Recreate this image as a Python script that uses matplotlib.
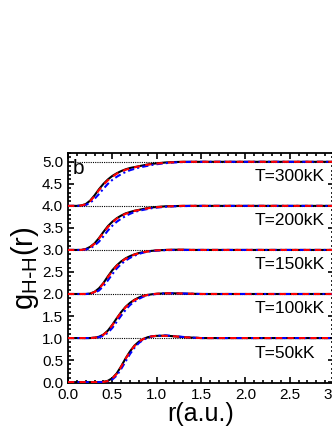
import numpy as np
import matplotlib
matplotlib.use("Agg")
from matplotlib import pyplot as plt
from matplotlib.ticker import MultipleLocator, FormatStrFormatter

plt.rcParams['font.family'] = ['Liberation Sans', 'DejaVu Sans']

# r grid (a.u.) shared by all curves
r = [0.0, 0.1, 0.15, 0.2, 0.25, 0.3, 0.35, 0.4, 0.45, 0.5, 0.55, 0.6, 0.65,
     0.7, 0.75, 0.8, 0.85, 0.9, 0.95, 1.0, 1.1, 1.2, 1.3, 1.4, 1.5, 2.0, 3.0]

temps = ["T=50kK", "T=100kK", "T=150kK", "T=200kK", "T=300kK"]
offsets = [0, 1, 2, 3, 4]

# black solid
g_black = [
    [0, 0, 0, 0, 0, 0, 0, 0.005, 0.03, 0.09, 0.2, 0.36, 0.54, 0.7, 0.83, 0.92, 0.98, 1.02, 1.04, 1.05, 1.055, 1.04, 1.02, 1.01, 1.0, 1.0, 1.0],
    [0, 0, 0, 0, 0, 0.01, 0.03, 0.08, 0.17, 0.3, 0.45, 0.59, 0.71, 0.8, 0.87, 0.92, 0.96, 0.98, 0.995, 1.005, 1.015, 1.015, 1.01, 1.005, 1.0, 1.0, 1.0],
    [0, 0, 0, 0, 0.01, 0.05, 0.13, 0.25, 0.4, 0.54, 0.65, 0.74, 0.81, 0.86, 0.9, 0.93, 0.95, 0.97, 0.98, 0.99, 1.0, 1.005, 1.005, 1.0, 1.0, 1.0, 1.0],
    [0, 0, 0, 0.02, 0.07, 0.15, 0.27, 0.41, 0.54, 0.64, 0.72, 0.78, 0.83, 0.86, 0.89, 0.91, 0.93, 0.95, 0.965, 0.975, 0.99, 0.995, 1.0, 1.0, 1.0, 1.0, 1.0],
    [0, 0, 0.01, 0.04, 0.12, 0.24, 0.38, 0.5, 0.6, 0.68, 0.74, 0.79, 0.83, 0.86, 0.88, 0.9, 0.92, 0.94, 0.955, 0.965, 0.985, 0.995, 1.0, 1.0, 1.0, 1.0, 1.0],
]
# red dashed
g_red = [
    [0, 0, 0, 0, 0, 0, 0, 0.004, 0.025, 0.08, 0.19, 0.35, 0.53, 0.69, 0.82, 0.92, 0.98, 1.02, 1.04, 1.05, 1.05, 1.04, 1.02, 1.01, 1.0, 1.0, 1.0],
    [0, 0, 0, 0, 0, 0.008, 0.027, 0.075, 0.16, 0.29, 0.44, 0.58, 0.7, 0.79, 0.86, 0.915, 0.955, 0.98, 0.995, 1.005, 1.015, 1.015, 1.01, 1.005, 1.0, 1.0, 1.0],
    [0, 0, 0, 0, 0.008, 0.045, 0.12, 0.24, 0.38, 0.52, 0.64, 0.73, 0.8, 0.85, 0.895, 0.925, 0.95, 0.965, 0.98, 0.99, 1.0, 1.005, 1.005, 1.0, 1.0, 1.0, 1.0],
    [0, 0, 0, 0.018, 0.065, 0.14, 0.26, 0.39, 0.52, 0.62, 0.71, 0.77, 0.82, 0.855, 0.885, 0.905, 0.925, 0.945, 0.96, 0.97, 0.985, 0.995, 1.0, 1.0, 1.0, 1.0, 1.0],
    [0, 0, 0.009, 0.035, 0.11, 0.22, 0.36, 0.48, 0.58, 0.66, 0.73, 0.78, 0.82, 0.85, 0.875, 0.895, 0.915, 0.935, 0.95, 0.96, 0.98, 0.99, 1.0, 1.0, 1.0, 1.0, 1.0],
]
# blue dash-dot
g_blue = [
    [0, 0, 0, 0, 0, 0, 0, 0.003, 0.02, 0.06, 0.15, 0.3, 0.47, 0.64, 0.78, 0.89, 0.96, 1.01, 1.04, 1.05, 1.06, 1.045, 1.025, 1.01, 1.0, 1.0, 1.0],
    [0, 0, 0, 0, 0, 0.005, 0.02, 0.05, 0.12, 0.23, 0.37, 0.51, 0.64, 0.75, 0.83, 0.89, 0.94, 0.97, 0.99, 1.0, 1.015, 1.015, 1.01, 1.005, 1.0, 1.0, 1.0],
    [0, 0, 0, 0, 0.005, 0.03, 0.08, 0.18, 0.31, 0.45, 0.58, 0.68, 0.76, 0.82, 0.87, 0.91, 0.94, 0.96, 0.975, 0.985, 0.995, 1.0, 1.0, 1.0, 1.0, 1.0, 1.0],
    [0, 0, 0, 0.01, 0.04, 0.1, 0.19, 0.31, 0.44, 0.55, 0.64, 0.71, 0.77, 0.82, 0.86, 0.89, 0.91, 0.93, 0.95, 0.96, 0.98, 0.99, 0.995, 1.0, 1.0, 1.0, 1.0],
    [0, 0, 0.005, 0.02, 0.07, 0.16, 0.27, 0.39, 0.5, 0.59, 0.66, 0.72, 0.77, 0.81, 0.84, 0.87, 0.89, 0.91, 0.93, 0.945, 0.97, 0.985, 0.995, 1.0, 1.0, 1.0, 1.0],
]

fig = plt.figure(figsize=(3.32, 4.30), dpi=100)
ax = fig.add_axes([68/332, 47/430, 266/332, 230/430])

r_arr = np.array(r)
for k in range(len(temps)):
    off = offsets[k]
    ax.axhline(off + 1, color='black', lw=0.8, ls=(0, (1, 1)), zorder=1)
    ax.plot(r_arr, np.array(g_black[k]) + off, color='black', lw=1.5, zorder=2)
    ax.plot(r_arr, np.array(g_blue[k]) + off, color='blue', lw=1.5,
            ls=(0, (3, 1.5, 1, 1.5)), zorder=3)
    ax.plot(r_arr, np.array(g_red[k]) + off, color='red', lw=1.5,
            ls=(0, (3, 2.5)), zorder=4)
    ax.text(2.11, off + 0.66, temps[k], fontsize=12.5, ha='left', va='center')

ax.text(0.05, 4.85, "b", fontsize=15, ha='left', va='center')

ax.set_xlim(0, 3.0)
ax.set_ylim(-0.02, 5.2)
ax.xaxis.set_major_locator(MultipleLocator(0.5))
ax.xaxis.set_minor_locator(MultipleLocator(0.1))
ax.yaxis.set_major_locator(MultipleLocator(0.5))
ax.yaxis.set_minor_locator(MultipleLocator(0.1))
ax.tick_params(which='both', direction='in', top=True, right=True, width=1.2,
               labelsize=11)
ax.tick_params(which='major', length=4)
ax.tick_params(which='minor', length=2)
ax.xaxis.set_major_formatter(FormatStrFormatter('%.1f'))
ax.yaxis.set_major_formatter(FormatStrFormatter('%.1f'))
for s in ax.spines.values():
    s.set_linewidth(1.3)

ax.set_xlabel("r(a.u.)", fontsize=18, labelpad=0)
ax.set_ylabel(r"g$_{\mathregular{H\text{-}H}}$(r)", fontsize=21, labelpad=1)

fig.savefig("out.png", dpi=100)
